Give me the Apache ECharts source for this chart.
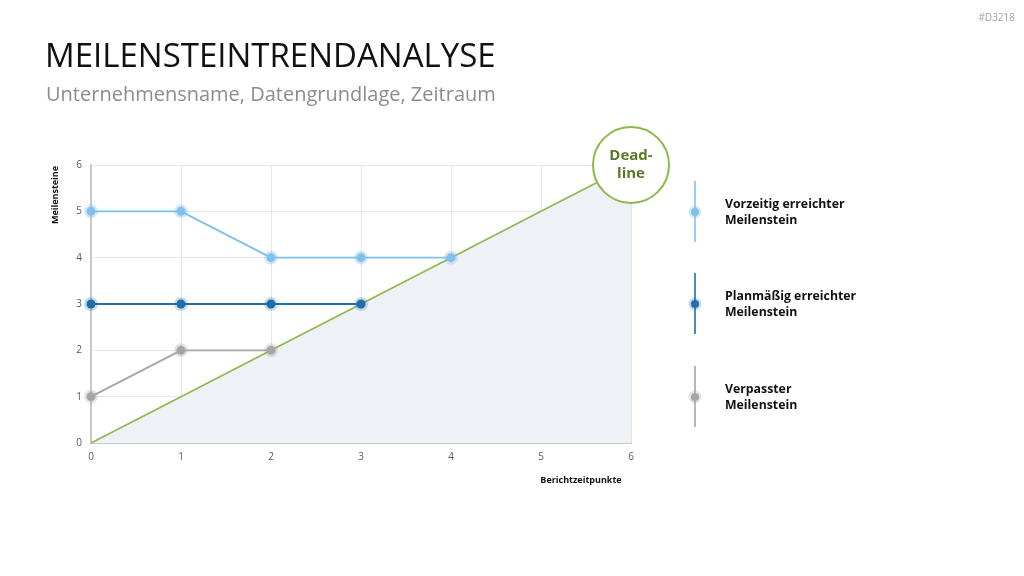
<!DOCTYPE html>
<html>
<head>
<meta charset="utf-8">
<script src="https://cdn.jsdelivr.net/npm/echarts@6/dist/echarts.min.js"></script>
<style>
  html, body { margin: 0; padding: 0; background: #fff; }
  #chart { width: 1024px; height: 576px; }
</style>
</head>
<body>
<div id="chart"></div>
<script>
// Berichtzeitpunkte / Werte je Meilenstein
const xTicks = [0, 1, 2, 3, 4, 5, 6];
const yTicks = [0, 1, 2, 3, 4, 5, 6];
const vorzeitig = [5, 5, 4, 4, 4];      // Vorzeitig erreichter Meilenstein
const planmaessig = [3, 3, 3, 3];      // Planmäßig erreichter Meilenstein
const verpasst = [1, 2, 2];            // Verpasster Meilenstein
const deadline = [0, 1, 2, 3, 4, 5, 6]; // Diagonale

const legendNames = ['Vorzeitig erreichter\nMeilenstein', 'Planmäßig erreichter\nMeilenstein', 'Verpasster\nMeilenstein'];
const colors = ['#80c1eb', '#1f6ead', '#a6a6a6'];
const halos = ['rgba(128,193,235,0.35)', 'rgba(31,110,173,0.25)', 'rgba(166,166,166,0.3)'];

const toPairs = arr => arr.map((v, i) => [xTicks[i], v]);

function msSeries(name, data, idx) {
    return {
        name: name,
        type: 'line',
        data: toPairs(data),
        z: 5,
        symbol: 'circle',
        symbolSize: 9,
        lineStyle: { color: colors[idx], width: 1.8 },
        itemStyle: { color: colors[idx], borderColor: halos[idx], borderWidth: 5 },
        emphasis: { disabled: true }
    };
}

// Legende rechts: senkrechte Linie + Punkt + Text
const legendY = [212, 304, 397];
const legendGraphics = [];
legendY.forEach((y, i) => {
    legendGraphics.push({
        type: 'line', shape: { x1: 695, y1: y - 31, x2: 695, y2: y + 30 },
        style: { stroke: colors[i], lineWidth: 1.6 }
    });
    legendGraphics.push({
        type: 'circle', shape: { cx: 695, cy: y, r: 4 },
        style: { fill: colors[i], stroke: halos[i], lineWidth: 5 }
    });
    legendGraphics.push({
        type: 'text', x: 725, y: y,
        style: {
            text: legendNames[i], fill: '#111', font: 'bold 12.3px "Open Sans", sans-serif',
            lineHeight: 16, verticalAlign: 'middle', align: 'left'
        }
    });
});

const chart = echarts.init(document.getElementById('chart'));
chart.setOption({
    animation: false,
    title: [
        {
            text: 'MEILENSTEINTRENDANALYSE', left: 40, top: 36,
            textStyle: { fontFamily: 'Open Sans', fontWeight: 'normal', fontSize: 33, color: '#111' }
        },
        {
            text: 'Unternehmensname, Datengrundlage, Zeitraum', left: 41, top: 80,
            textStyle: { fontFamily: 'Open Sans', fontWeight: 'normal', fontSize: 20, color: '#8c8c8c' }
        },
        {
            text: '#D3218', right: 4, top: 8,
            textStyle: { fontFamily: 'Open Sans', fontWeight: 'normal', fontSize: 10, color: '#a0a0a0' }
        }
    ],
    grid: { left: 91, right: 393, top: 165, bottom: 133 },
    xAxis: {
        type: 'value', min: 0, max: 6, interval: 1,
        axisLine: { show: true, lineStyle: { color: '#c8c8c8', width: 2 } },
        axisTick: { show: false },
        axisLabel: { color: '#595959', fontSize: 10, fontFamily: 'Open Sans', margin: 9 },
        splitLine: { show: true, lineStyle: { color: '#e7e7e7' } }
    },
    yAxis: {
        type: 'value', min: 0, max: 6, interval: 1,
        axisLine: { show: true, lineStyle: { color: '#c8c8c8', width: 2 } },
        axisTick: { show: false },
        axisLabel: { color: '#595959', fontSize: 10, fontFamily: 'Open Sans', margin: 9 },
        splitLine: { show: true, lineStyle: { color: '#e7e7e7' } }
    },
    series: [
        {
            name: 'Deadline',
            type: 'line',
            data: toPairs(deadline),
            z: 2,
            symbol: 'none',
            lineStyle: { color: '#8fb84a', width: 1.6 },
            areaStyle: { color: '#eef1f6', opacity: 1 },
            emphasis: { disabled: true },
            markPoint: {
                symbol: 'circle',
                symbolSize: 76,
                z: 10,
                data: [{ coord: [6, 6], value: 'Dead-\nline' }],
                itemStyle: { color: '#fff', borderColor: '#8fb84a', borderWidth: 2 },
                label: {
                    show: true, formatter: 'Dead-\nline', color: '#587a23',
                    fontFamily: 'Open Sans', fontWeight: 'bold', fontSize: 15, lineHeight: 18
                }
            }
        },
        msSeries(legendNames[0], vorzeitig, 0),
        msSeries(legendNames[1], planmaessig, 1),
        msSeries(legendNames[2], verpasst, 2)
    ],
    graphic: [
        {
            type: 'text', x: 55, y: 195, rotation: Math.PI / 2,
            style: { text: 'Meilensteine', fill: '#111', font: 'bold 9px "Open Sans", sans-serif', align: 'center', verticalAlign: 'middle' }
        },
        {
            type: 'text', x: 581, y: 480,
            style: { text: 'Berichtzeitpunkte', fill: '#111', font: 'bold 9px "Open Sans", sans-serif', align: 'center', verticalAlign: 'middle' }
        }
    ].concat(legendGraphics)
});
</script>
</body>
</html>
